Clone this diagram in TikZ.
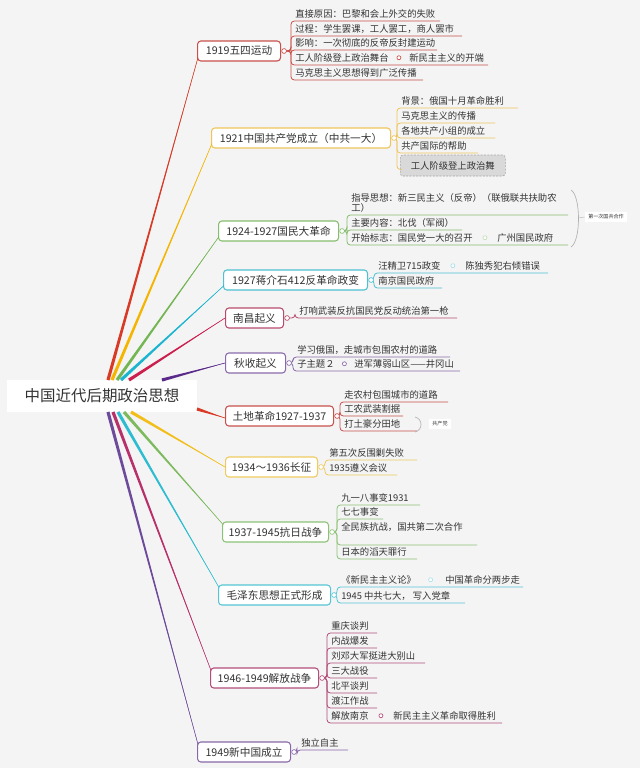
\documentclass[tikz,border=0pt]{standalone}
\usepackage{fontspec}
\setmainfont{Noto Sans CJK SC}
\usetikzlibrary{calc}
\definecolor{bgc}{HTML}{F4F4F4}
\definecolor{txt}{HTML}{333333}
\definecolor{ln1}{HTML}{D83A25}\definecolor{bx1}{HTML}{C8504A}
\definecolor{ln2}{HTML}{F5B400}\definecolor{bx2}{HTML}{EDC55A}
\definecolor{ln3}{HTML}{74B554}\definecolor{bx3}{HTML}{86BD6E}
\definecolor{ln4}{HTML}{1CB5D0}\definecolor{bx4}{HTML}{4DC0D2}
\definecolor{ln5}{HTML}{CC1F4E}\definecolor{bx5}{HTML}{B84A6C}
\definecolor{ln6}{HTML}{5A2A8A}\definecolor{bx6}{HTML}{8A6AAA}
\definecolor{ln7}{HTML}{D83A25}\definecolor{bx7}{HTML}{C8504A}
\definecolor{ln8}{HTML}{F2BE1A}\definecolor{bx8}{HTML}{EDCB60}
\definecolor{ln9}{HTML}{7DBA5E}\definecolor{bx9}{HTML}{8CC276}
\definecolor{ln10}{HTML}{2EBCD0}\definecolor{bx10}{HTML}{55C5D5}
\definecolor{ln11}{HTML}{B8306A}\definecolor{bx11}{HTML}{B24D7A}
\definecolor{ln12}{HTML}{6E4A9A}\definecolor{bx12}{HTML}{8868A8}
\newcommand\brfont{\fontsize{8}{9.6}\selectfont}
\newcommand\leaffont{\fontsize{7}{8.4}\selectfont}
\newcommand\rootfont{\fontsize{11.6}{14}\selectfont}
\newcommand\tinyfnt{\fontsize{3.8}{4.5}\selectfont}
\newcommand\mmtaper[3]{%
  \fill[#3] ($(#1)!1.2pt!90:(#2)$) -- ($(#1)!1.2pt!-90:(#2)$) -- (#2) -- cycle;
  \draw[#3, line width=0.4pt] (#1) -- (#2);}
\tikzset{
  root/.style={fill=white, font=\rootfont, text=txt, minimum width=142.5pt, minimum height=24pt, inner sep=0pt},
  br/.style 2 args={draw=#1, fill=white, rounded corners=2.5pt, line width=0.8pt, font=\brfont, text=txt,
    anchor=west, minimum width=#2*0.75pt, minimum height=15pt, inner xsep=2pt, inner ysep=1pt},
  leaf/.style={font=\leaffont, text=txt, anchor=south west, inner xsep=3pt, inner ysep=2pt},
  ul/.style={draw=#1, line width=0.6pt, rounded corners=2.5pt},
  knob/.style={circle, draw=#1, fill=white, line width=0.5pt, inner sep=0pt, minimum size=3.6pt},
  gbox/.style={draw=gray!70, dash pattern=on 1.5pt off 1pt, fill=black!15, rounded corners=2pt, font=\leaffont,
    text=txt, anchor=west, minimum width=78.75pt, minimum height=15.75pt, inner sep=1pt},
  brace/.style={draw=black!30, line width=0.5pt},
  tag/.style={fill=white, font=\tinyfnt, text=txt, inner xsep=2.5pt, inner ysep=2pt}
}
\begin{document}
\begin{tikzpicture}[x=0.75pt,y=-0.75pt]
\useasboundingbox (0,0) rectangle (640,768);
\fill[bgc] (0,0) rectangle (640,768);

% root
\node[root] (root) at (102,396) {中国近代后期政治思想};

% branch boxes
\node[br={bx1}{83}] (b1) at (197,51) {1919五四运动};
\node[br={bx2}{179}] (b2) at (211,138) {1921中国共产党成立（中共一大）};
\node[br={bx3}{120}] (b3) at (218,231) {1924-1927国民大革命};
\node[br={bx4}{144}] (b4) at (223,280) {1927蒋介石412反革命政变};
\node[br={bx5}{58}] (b5) at (225,318) {南昌起义};
\node[br={bx6}{60}] (b6) at (225,363) {秋收起义};
\node[br={bx7}{108}] (b7) at (225,416) {土地革命1927-1937};
\node[br={bx8}{92}] (b8) at (225,467) {1934～1936长征};
\node[br={bx9}{106}] (b9) at (222,532) {1937-1945抗日战争};
\node[br={bx10}{112}] (b10) at (218,595) {毛泽东思想正式形成};
\node[br={bx11}{108}] (b11) at (210,678) {1946-1949解放战争};
\node[br={bx12}{93}] (b12) at (197,752) {1949新中国成立};

% main connectors
\coordinate (s1) at (108,380); \coordinate (s2) at (112,380); \coordinate (s3) at (117,380);
\coordinate (s4) at (121,380); \coordinate (s5) at (129,380); \coordinate (s6) at (162,380);
\coordinate (s7) at (197,409); \coordinate (s8) at (131,412); \coordinate (s9) at (124,412);
\coordinate (s10) at (118,412); \coordinate (s11) at (113,412); \coordinate (s12) at (108,412);
\coordinate (e1) at ($(b1.south west)+(1,-4)$);
\coordinate (e2) at ($(b2.south west)+(1,-5)$);
\coordinate (e3) at ($(b3.south west)+(1,-5)$);
\coordinate (e4) at ($(b4.south west)+(1,-5)$);
\coordinate (e5) at (b5.west);
\coordinate (e6) at (b6.west);
\coordinate (e7) at ($(b7.west)+(0,2)$);
\coordinate (e8) at (b8.west);
\coordinate (e9) at ($(b9.north west)+(1,3)$);
\coordinate (e10) at ($(b10.north west)+(1,3)$);
\coordinate (e11) at ($(b11.north west)+(1,3)$);
\coordinate (e12) at ($(b12.north west)+(1,3)$);
\mmtaper{s1}{e1}{ln1}
\mmtaper{s2}{e2}{ln2}
\mmtaper{s3}{e3}{ln3}
\mmtaper{s4}{e4}{ln4}
\mmtaper{s5}{e5}{ln5}
\mmtaper{s6}{e6}{ln6}
\mmtaper{s7}{e7}{ln7}
\mmtaper{s8}{e8}{ln8}
\mmtaper{s9}{e9}{ln9}
\mmtaper{s10}{e10}{ln10}
\mmtaper{s11}{e11}{ln11}
\mmtaper{s12}{e12}{ln12}

% ---------- B1
\coordinate (k1) at ($(b1.east)+(3,0)$);
\node[leaf] (c11) at (291,21) {直接原因：巴黎和会上外交的失败};
\node[leaf] (c12) at (291,36) {过程：学生罢课，工人罢工，商人罢市};
\node[leaf] (c13) at (291,50) {影响：一次彻底的反帝反封建运动};
\node[leaf] (c14) at (291,65) {工人阶级登上政治舞台};
\node[leaf] (g14) at (405,65) {新民主主义的开端};
\node[leaf] (c15) at (291,80) {马克思主义思想得到广泛传播};
\draw[ul=bx1] (k1) -| (c11.south west) -- ++(149,0);
\draw[ul=bx1] (k1) -| (c12.south west) -- ++(171,0);
\draw[ul=bx1] (k1) -| (c13.south west) -- ++(146,0);
\draw[ul=bx1] (k1) -| (c14.south west) -- (g14.south east);
\draw[ul=bx1] (k1) -| (c15.south west) -- ++(132,0);
\node[knob=bx1] (kn1) at (k1) {};
\node[knob=bx1, minimum size=3pt] (kg14) at ($(c14.east)!0.5!(g14.west)$) {};

% ---------- B2
\coordinate (k2) at ($(b2.east)+(3,0)$);
\node[leaf] (c21) at (397,108) {背景：俄国十月革命胜利};
\node[leaf] (c22) at (397,123) {马克思主义的传播};
\node[leaf] (c23) at (397,138) {各地共产小组的成立};
\node[leaf] (c24) at (397,153) {共产国际的帮助};
\node[gbox] (g21) at (400,165.5) {工人阶级登上政治舞};
\draw[ul=bx2] (k2) -| (c21.south west) -- ++(121,0);
\draw[ul=bx2] (k2) -| (c22.south west) -- ++(98,0);
\draw[ul=bx2] (k2) -| (c23.south west) -- ++(98,0);
\draw[ul=bx2] (k2) -| (c24.south west) -- ++(81,0);
\draw[ul=bx2] (k2) -| ($(g21.west)+(-3,4)$) -- ($(g21.west)+(0,4)$);
\node[knob=bx2] (kn2) at (k2) {};

% ---------- B3
\coordinate (k3) at ($(b3.east)+(3,0)$);
\node[leaf, font=\fontsize{7}{7.6}\selectfont, align=left] (c31) at (347,215) {指导思想：新三民主义（反帝）（联俄联共扶助农\\工）};
\node[leaf] (c32) at (347,230) {主要内容：北伐（军阀）};
\node[leaf] (c33) at (347,245) {开始标志：国民党一大的召开};
\node[leaf] (g33) at (493,245) {广州国民政府};
\draw[ul=bx3] (k3) -| (c31.south west) -- ++(221,0);
\draw[ul=bx3] (k3) -| (c32.south west) -- ++(115,0);
\draw[ul=bx3] (k3) -| (c33.south west) -- (g33.south west) -- ++(75,0);
\node[knob=bx3] (kn3) at (k3) {};
\node[knob=bx3, minimum size=3pt, draw=bx3!50] (kg33) at ($(c33.east)!0.5!(g33.west)$) {};
\coordinate (bra1) at (571,190);
\coordinate (brb1) at (571,247);
\coordinate (brm1) at (578,218);
\draw[brace] (bra1) .. controls (581,196) and (581,241) .. (brb1);
\node[tag] (lab1) at (606,217) {第一次国共合作};
\draw[brace, line width=0.3pt] (brm1) -- (lab1.west);

% ---------- B4
\coordinate (k4) at ($(b4.east)+(3,0)$);
\node[leaf] (c41) at (374,273) {汪精卫715政变};
\node[leaf] (g41) at (461,273) {陈独秀犯右倾错误};
\node[leaf] (c42) at (374,288) {南京国民政府};
\draw[ul=bx4] (k4) -| (c41.south west) -- (g41.south west) -- ++(87,0);
\draw[ul=bx4] (k4) -| (c42.south west) -- ++(68,0);
\node[knob=bx4] (kn4) at (k4) {};
\node[knob=bx4, minimum size=3pt, draw=bx4!50] (kg41) at ($(c41.east)!0.5!(g41.west)$) {};

% ---------- B5
\coordinate (k5) at ($(b5.east)+(3,0)$);
\node[leaf] (c51) at (295,318) {打响武装反抗国民党反动统治第一枪};
\draw[ul=bx5] (k5) -| (c51.south west) -- ++(162,0);
\node[knob=bx5] (kn5) at (k5) {};

% ---------- B6
\coordinate (k6) at ($(b6.east)+(3,0)$);
\node[leaf] (c61) at (293,357) {学习俄国，走城市包围农村的道路};
\node[leaf] (c62) at (293,371) {子主题２};
\node[leaf] (g62) at (350,371) {进军薄弱山区——井冈山};
\draw[ul=bx6] (k6) -| (c61.south west) -- ++(157,0);
\draw[ul=bx6] (k6) -| (c62.south west) -- (g62.south west) -- ++(110,0);
\node[knob=bx6] (kn6) at (k6) {};
\node[knob=bx6, minimum size=3pt] (kg62) at ($(c62.east)!0.5!(g62.west)$) {};

% ---------- B7
\coordinate (k7) at ($(b7.east)+(3,0)$);
\node[leaf] (c71) at (340,402) {走农村包围城市的道路};
\node[leaf] (c72) at (340,416) {工农武装割据};
\node[leaf] (c73) at (340,431) {打土豪分田地};
\draw[ul=bx7] (k7) -| (c71.south west) -- ++(108,0);
\draw[ul=bx7] (k7) -| (c72.south west) -- ++(63,0);
\draw[ul=bx7] (k7) -| (c73.south west) -- ++(77,0);
\node[knob=bx7] (kn7) at (k7) {};
\coordinate (bra2) at (415,417);
\coordinate (brb2) at (415,432);
\coordinate (brm2) at (421,424.5);
\draw[brace] (bra2) .. controls (423,419) and (423,430) .. (brb2);
\node[tag] (lab2) at (440,424) {共产党};

% ---------- B8
\coordinate (k8) at ($(b8.east)+(3,0)$);
\node[leaf] (c81) at (325,460) {第五次反围剿失败};
\node[leaf] (c82) at (325,475) {1935遵义会议};
\draw[ul=bx8] (k8) -| (c81.south west) -- ++(92,0);
\draw[ul=bx8] (k8) -| (c82.south west) -- ++(72,0);
\node[knob=bx8] (kn8) at (k8) {};

% ---------- B9
\coordinate (k9) at ($(b9.east)+(3,0)$);
\node[leaf] (c91) at (337,505) {九一八事变1931};
\node[leaf] (c92) at (337,519) {七七事变};
\node[leaf, text depth=8.5pt] (c93) at (337,545) {全民族抗战，国共第二次合作};
\node[leaf] (c94) at (337,559) {日本的滔天罪行};
\draw[ul=bx9] (k9) -| (c91.south west) -- ++(83,0);
\draw[ul=bx9] (k9) -| (c92.south west) -- ++(46,0);
\draw[ul=bx9] (k9) -| (c93.south west) -- ++(140,0);
\draw[ul=bx9] (k9) -| (c94.south west) -- ++(80,0);
\node[knob=bx9] (kn9) at (k9) {};

% ---------- B10
\coordinate (k10) at ($(b10.east)+(3,0)$);
\node[leaf] (c101) at (337,587) {《新民主主义论》};
\node[leaf] (g101) at (441,587) {中国革命分两步走};
\node[leaf] (c102) at (337,603) {1945 中共七大， 写入党章};
\draw[ul=bx10] (k10) -| (c101.south west) -- (g101.south west) -- ++(82,0);
\draw[ul=bx10] (k10) -| (c102.south west) -- ++(128,0);
\node[knob=bx10] (kn10) at (k10) {};
\node[knob=bx10, minimum size=3pt, draw=bx10!50] (kg101) at ($(c101.east)!0.5!(g101.west)$) {};

% ---------- B11
\coordinate (k11) at ($(b11.east)+(3,0)$);
\node[leaf] (c111) at (327,633) {重庆谈判};
\node[leaf] (c112) at (327,648) {内战爆发};
\node[leaf] (c113) at (327,663) {刘邓大军挺进大别山};
\node[leaf] (c114) at (327,678) {三大战役};
\node[leaf] (c115) at (327,693) {北平谈判};
\node[leaf] (c116) at (327,708) {渡江作战};
\node[leaf] (c117) at (327,723) {解放南京};
\node[leaf] (g117) at (389,723) {新民主主义革命取得胜利};
\draw[ul=bx11] (k11) -| (c111.south west) -- ++(50,0);
\draw[ul=bx11] (k11) -| (c112.south west) -- ++(50,0);
\draw[ul=bx11] (k11) -| (c113.south west) -- ++(98,0);
\draw[ul=bx11] (k11) -| (c114.south west) -- ++(50,0);
\draw[ul=bx11] (k11) -| (c115.south west) -- ++(50,0);
\draw[ul=bx11] (k11) -| (c116.south west) -- ++(50,0);
\draw[ul=bx11] (k11) -| (c117.south west) -- (g117.south west) -- ++(113,0);
\node[knob=bx11] (kn11) at (k11) {};
\node[knob=bx11, minimum size=3pt] (kg117) at ($(c117.east)!0.5!(g117.west)$) {};

% ---------- B12
\coordinate (k12) at ($(b12.east)+(3,0)$);
\node[leaf] (c121) at (297,750) {独立自主};
\draw[ul=bx12] (k12) -| (c121.south west) -- ++(51,0);
\node[knob=bx12] (kn12) at (k12) {};
\end{tikzpicture}
\end{document}
